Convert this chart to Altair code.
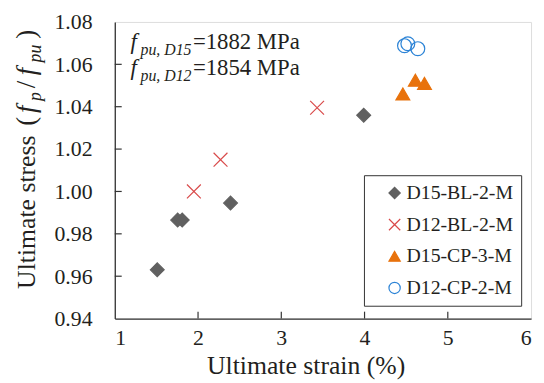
import altair as alt
import pandas as pd

# ---- data ----
series = ["D15-BL-2-M", "D12-BL-2-M", "D15-CP-3-M", "D12-CP-2-M"]

d15bl_strain = [1.51, 1.755, 1.81, 2.39, 3.99]
d15bl_stress = [0.963, 0.9865, 0.9865, 0.9945, 1.036]
d12bl_strain = [1.95, 2.27, 3.43]
d12bl_stress = [1.000, 1.015, 1.0395]
d15cp_strain = [4.46, 4.61, 4.72]
d15cp_stress = [1.046, 1.0525, 1.051]
d12cp_strain = [4.48, 4.52, 4.64]
d12cp_stress = [1.0688, 1.0697, 1.0674]

x_ticks = [1, 2, 3, 4, 5, 6]
y_ticks = [0.94, 0.96, 0.98, 1.00, 1.02, 1.04, 1.06, 1.08]

# ---- build table ----
rows = []
for name, xs, ys in zip(series,
                        [d15bl_strain, d12bl_strain, d15cp_strain, d12cp_strain],
                        [d15bl_stress, d12bl_stress, d15cp_stress, d12cp_stress]):
    for a, b in zip(xs, ys):
        rows.append({"series": name, "strain": a, "stress": b})
df = pd.DataFrame(rows)

FONT = "Liberation Serif, Times New Roman, DejaVu Serif, serif"
INK = "#231f20"
W, H = 421, 300

xscale = alt.Scale(domain=[x_ticks[0], x_ticks[-1]], nice=False, zero=False)
yscale = alt.Scale(domain=[y_ticks[0], y_ticks[-1]], nice=False, zero=False)

shape_range = ["diamond", "M-1,-1L1,1M1,-1L-1,1", "triangle-up", "circle"]
stroke_range = ["#606060", "#D94A4A", "#E8720C", "#2B83D6"]
fill_range = ["#606060", "transparent", "#E8720C", "transparent"]

legend = alt.Legend(
    title=None, orient="none", legendX=252, legendY=155,
    labelFont=FONT, labelFontSize=20, labelColor=INK, labelOffset=2,
    symbolSize=130, symbolStrokeWidth=1.2, symbolOffset=13,
    padding=8, rowPadding=12,
    strokeColor="#333333", fillColor="white",
)

points = alt.Chart(df).mark_point(opacity=1, size=196, strokeWidth=1.2).encode(
    x=alt.X("strain:Q", scale=xscale,
            axis=alt.Axis(values=x_ticks, format="d", ticks=False, tickSize=0,
                          grid=False, domainColor="#333333", domainWidth=1.3,
                          labelFont=FONT, labelFontSize=22, labelColor=INK,
                          labelPadding=9, title="Ultimate strain (%)",
                          titleFont=FONT, titleFontSize=26, titleFontWeight="normal",
                          titleColor=INK, titleX=193, titleY=56,
                          titleBaseline="alphabetic")),
    y=alt.Y("stress:Q", scale=yscale,
            axis=alt.Axis(values=y_ticks, format=".2f", ticks=False, tickSize=0,
                          grid=False, domainColor="#333333", domainWidth=1.3,
                          labelFont=FONT, labelFontSize=22, labelColor=INK,
                          labelPadding=23, title=None)),
    shape=alt.Shape("series:N", scale=alt.Scale(domain=series, range=shape_range), legend=legend),
    stroke=alt.Stroke("series:N", scale=alt.Scale(domain=series, range=stroke_range), legend=legend),
    fill=alt.Fill("series:N", scale=alt.Scale(domain=series, range=fill_range), legend=legend),
)

# inward tick marks
xt = pd.DataFrame({"t": x_ticks[1:-1]})
yt = pd.DataFrame({"t": y_ticks[1:-1]})
xtick_marks = alt.Chart(xt).mark_rule(color="#333333", strokeWidth=1.2).encode(
    x=alt.X("t:Q", scale=xscale), y=alt.value(H), y2=alt.value(H - 7))
ytick_marks = alt.Chart(yt).mark_rule(color="#333333", strokeWidth=1.2).encode(
    y=alt.Y("t:Q", scale=yscale), x=alt.value(0), x2=alt.value(7))

one = pd.DataFrame({"k": [0]})


def txt(text, x, y, size, italic=False, angle=0):
    kw = dict(text=text, font=FONT, fontSize=size, color=INK, align="left",
              baseline="alphabetic")
    if italic:
        kw["fontStyle"] = "italic"
    if angle:
        kw["angle"] = angle
    return alt.Chart(one).mark_text(**kw).encode(x=alt.value(x), y=alt.value(y))


annots = [
    # f_pu, D15 = 1882 MPa
    txt("f", 16, 27, 23, italic=True),
    txt("pu, D15", 26, 33, 16, italic=True),
    txt("=1882 MPa", 79, 27, 23),
    txt("f", 16, 54, 23, italic=True),
    txt("pu, D12", 26, 60, 16, italic=True),
    txt("=1854 MPa", 79, 54, 23),
    # y-axis title, rotated
    txt("Ultimate stress", -81, 270, 26, angle=270),
    txt("(", -81, 105, 27, angle=270),
    txt("f", -81, 92, 27, italic=True, angle=270),
    txt("p", -75, 80, 18, italic=True, angle=270),
    txt("/", -81, 67, 27, angle=270),
    txt("f", -81, 54, 27, italic=True, angle=270),
    txt("pu", -75, 41, 18, italic=True, angle=270),
    txt(")", -81, 17, 27, angle=270),
]

chart = alt.layer(points, xtick_marks, ytick_marks, *annots).properties(
    width=W, height=H,
    autosize=alt.AutoSizeParams(type="none"),
    padding={"left": 108, "top": 12, "right": 5, "bottom": 60},
).configure_view(stroke="#333333", strokeWidth=1.3).configure(background="white")

chart.save("out.html", embed_options={"renderer": "svg", "actions": False})
